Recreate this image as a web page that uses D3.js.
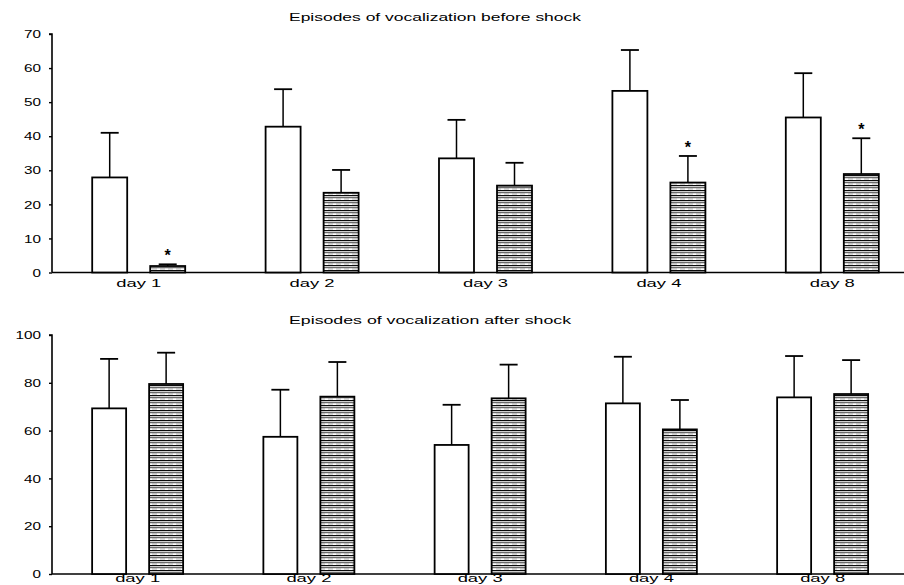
<!DOCTYPE html>
<html>
<head>
<meta charset="utf-8">
<script src="https://cdn.jsdelivr.net/npm/d3@7"></script>
<style>
  html, body { margin: 0; padding: 0; background: #fff; }
  svg { display: block; }
  text { font-family: "Liberation Sans", Arial, sans-serif; fill: #000; }
</style>
</head>
<body>
<svg id="chart" width="904" height="585"></svg>
<script>
// Days of testing
const days = ["day 1", "day 2", "day 3", "day 4", "day 8"];
const groups = ["control", "treated"];

// Episodes of vocalization before shock (mean and upper error)
const beforeControl = [27.9, 42.8, 33.5, 53.3, 45.5];
const beforeControlErr = [13.1, 11.0, 11.3, 12.0, 13.0];
const beforeTreated = [1.9, 23.4, 25.5, 26.4, 28.9];
const beforeTreatedErr = [0.5, 6.7, 6.7, 7.8, 10.5];
const beforeStars = [true, false, false, true, true];

// Episodes of vocalization after shock
const afterControl = [69.3, 57.4, 54.0, 71.4, 73.9];
const afterControlErr = [20.7, 19.7, 16.8, 19.5, 17.3];
const afterTreated = [79.5, 74.2, 73.5, 60.5, 75.3];
const afterTreatedErr = [13.1, 14.5, 14.1, 12.3, 14.2];
const afterStars = [false, false, false, false, false];

const beforeTicks = [0, 10, 20, 30, 40, 50, 60, 70];
const afterTicks = [0, 20, 40, 60, 80, 100];

const svg = d3.select("#chart");
const W = 904, H = 585;

// horizontal line hatching for treated bars
const defs = svg.append("defs");
const pat = defs.append("pattern")
  .attr("id", "hatch")
  .attr("patternUnits", "userSpaceOnUse")
  .attr("width", 8).attr("height", 5);
pat.append("rect").attr("width", 8).attr("height", 5).attr("fill", "#fff");
pat.append("rect").attr("y", 0).attr("width", 8).attr("height", 1.2).attr("fill", "#0a0a0a");
pat.append("rect").attr("y", 2.2).attr("width", 8).attr("height", 1).attr("fill", "#444");
pat.append("rect").attr("y", 3.7).attr("width", 5).attr("height", 0.6).attr("fill", "#888");

function stretchText(sel, len) {
  sel.attr("textLength", len).attr("lengthAdjust", "spacingAndGlyphs");
}

function panel(cfg) {
  const y = d3.scaleLinear().domain([0, cfg.max]).range([cfg.y0, cfg.y1]);
  const x0 = d3.scaleBand().domain(days)
    .range([cfg.left, cfg.left + cfg.step * days.length]);
  const x1 = d3.scaleBand().domain(groups)
    .range([0, x0.bandwidth()])
    .paddingInner(cfg.pi).paddingOuter(cfg.po);

  const g = svg.append("g");

  // title
  const t = g.append("text")
    .attr("x", cfg.titleX).attr("y", cfg.titleY)
    .attr("font-size", 11)
    .text(cfg.title);
  stretchText(t, cfg.titleLen);

  // y axis
  const yAxis = d3.axisLeft(y).tickValues(cfg.ticks).tickSize(3).tickFormat(d3.format("d"));
  const ya = g.append("g").attr("transform", `translate(${cfg.left},0)`).call(yAxis);
  ya.select(".domain").attr("stroke", "#000").attr("stroke-width", 1.6)
    .attr("d", `M-3,${y(cfg.max)}H0V${y(0)}`);
  ya.selectAll(".tick line").attr("stroke", "#000").attr("stroke-width", 1.4);
  ya.selectAll(".tick text").attr("font-size", 10.5).attr("x", -11).attr("dy", "0.35em")
    .attr("font-family", "Liberation Sans, Arial, sans-serif")
    .each(function(d) { stretchText(d3.select(this), String(d).length * 8.5); });

  // x baseline
  g.append("line")
    .attr("x1", cfg.left).attr("x2", W)
    .attr("y1", y(0)).attr("y2", y(0))
    .attr("stroke", "#000").attr("stroke-width", 1.6);

  // day labels
  g.selectAll(".day").data(days).join("text")
    .attr("class", "day")
    .attr("x", d => x0(d) + x0.bandwidth() / 2 - cfg.dayLen / 2)
    .attr("y", Math.min(y(0) + cfg.dayDy, H - 3))
    .attr("font-size", 11)
    .text(d => d)
    .each(function() { stretchText(d3.select(this), cfg.dayLen); });

  const series = [
    { key: "control", vals: cfg.control, errs: cfg.controlErr, fill: "#fff" },
    { key: "treated", vals: cfg.treated, errs: cfg.treatedErr, fill: "url(#hatch)" }
  ];

  series.forEach(s => {
    const sg = g.append("g");
    days.forEach((d, i) => {
      const bx = x0(d) + x1(s.key);
      const bw = x1.bandwidth();
      const cx = bx + bw / 2;
      const top = y(s.vals[i]);
      const errTop = y(s.vals[i] + s.errs[i]);
      // error bar (upper only)
      sg.append("line")
        .attr("x1", cx).attr("x2", cx)
        .attr("y1", top).attr("y2", errTop)
        .attr("stroke", "#000").attr("stroke-width", 1.5);
      sg.append("line")
        .attr("x1", cx - 9).attr("x2", cx + 9)
        .attr("y1", errTop).attr("y2", errTop)
        .attr("stroke", "#000").attr("stroke-width", 1.8);
      // bar
      sg.append("rect")
        .attr("x", bx).attr("y", top)
        .attr("width", bw).attr("height", y(0) - top)
        .attr("fill", s.fill)
        .attr("stroke", "#000").attr("stroke-width", 1.8);
      // significance marker
      if (s.key === "treated" && cfg.stars[i]) {
        sg.append("text")
          .attr("x", cx).attr("y", errTop - 3)
          .attr("text-anchor", "middle")
          .attr("font-size", 16)
          .attr("font-weight", "bold")
          .text("*");
      }
    });
  });
}

panel({
  title: "Episodes of vocalization before shock",
  titleX: 289, titleY: 21, titleLen: 292,
  max: 70, ticks: beforeTicks, y0: 272.5, y1: 34,
  left: 52, step: 173.4, pi: 0.3966, po: 0.693,
  dayLen: 45, dayDy: 14,
  control: beforeControl, controlErr: beforeControlErr,
  treated: beforeTreated, treatedErr: beforeTreatedErr,
  stars: beforeStars
});

panel({
  title: "Episodes of vocalization after shock",
  titleX: 289, titleY: 324, titleLen: 282,
  max: 100, ticks: afterTicks, y0: 574, y1: 335,
  left: 52, step: 171.25, pi: 0.4035, po: 0.704,
  dayLen: 45, dayDy: 14,
  control: afterControl, controlErr: afterControlErr,
  treated: afterTreated, treatedErr: afterTreatedErr,
  stars: afterStars
});
</script>
</body>
</html>
